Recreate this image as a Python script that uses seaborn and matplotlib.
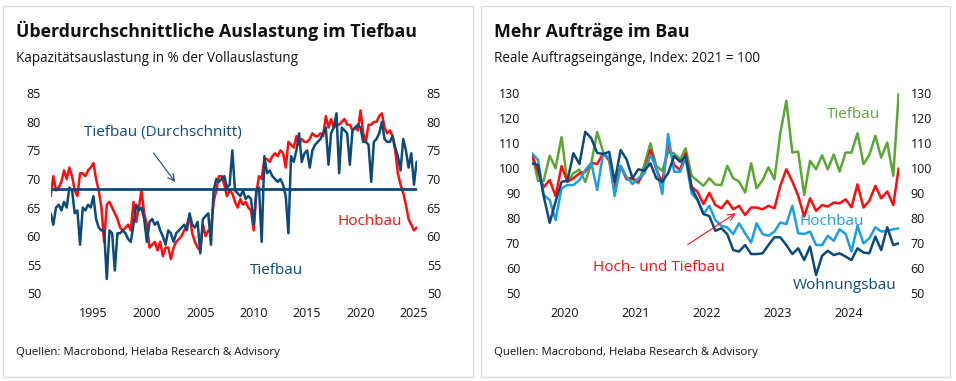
import pandas as pd
import matplotlib
matplotlib.use("Agg")
import matplotlib.pyplot as plt
import matplotlib.dates as mdates
from matplotlib.patches import Rectangle
import seaborn as sns


# ---- left chart: capacity utilisation, quarterly readings 1991Q1 - 2025Q2 ----
tiefbau_auslastung = [
    64, 62, 65, 65.5, 64.5, 66, 65, 68.5, 68, 64, 64.5, 58.5,
    65, 64.5, 65.5, 65, 67, 63, 61.5, 61, 61, 52.5, 61, 60.5,
    54, 60.5, 60.5, 61, 60.5, 59.5, 59, 62, 65.5, 64.5, 65, 63,
    59, 62.5, 63, 62, 62.5, 61, 60, 58.5, 61, 60.5, 59, 60.5,
    61, 61.5, 62, 61, 64, 62, 61.5, 62.5, 57, 63, 63.5, 64,
    58.5, 68, 70, 69.5, 70, 70.5, 68.5, 69, 75, 68, 67.5, 67,
    68, 66.5, 67, 66.5, 62, 68, 68.5, 59, 74, 71, 71.5, 70.5,
    70, 69.5, 70, 69, 67, 60.5, 74, 73, 75, 78, 73, 74.5,
    75, 72, 75, 76, 76.5, 77, 78, 79, 72.5, 78, 79, 81.5,
    71, 79, 78.5, 78, 72.5, 78.5, 79, 79.5, 79, 76.5, 76.5, 76,
    69.5, 76.5, 77, 78, 80, 77, 76.5, 76.5, 77.5, 75.5, 74, 71.5,
    77, 75, 72, 74.5, 69, 73,
]
hochbau_auslastung = [
    67, 70.5, 68, 68.5, 69.5, 71.5, 70, 72, 70.5, 68, 67, 71,
    71, 70.5, 71.5, 72, 72.8, 70, 68, 65, 59, 65.5, 66, 65,
    64, 63, 61.5, 61, 61.5, 62, 61, 66, 62.5, 65, 68, 64,
    62, 58, 58.5, 59, 57.5, 59, 56.5, 58, 58, 56, 58, 59,
    59.5, 60, 61, 62, 63.5, 60.5, 59, 58, 57.5, 62, 60, 61,
    61, 66, 68, 70.5, 70.5, 69, 67, 68, 67.5, 66, 65, 66.5,
    65.5, 66, 65, 64.5, 61, 67.5, 70.5, 70, 73.5, 73.5, 73, 74,
    74.5, 74, 75, 74.5, 72, 76.5, 76, 75.5, 77.5, 76, 77, 76.5,
    76.5, 77, 78, 77.5, 77.5, 78, 77.5, 81, 79, 80.5, 79, 79.5,
    79.5, 80, 80.5, 79.5, 79.5, 78.5, 79, 78.5, 82, 78, 76.5, 79.5,
    79.5, 80, 80, 81, 81.5, 79, 78, 78.5, 77.5, 75, 71, 69,
    67.5, 65.5, 63, 62, 61, 61.5,
]
tiefbau_durchschnitt = 68.3
left_years = [1995, 2000, 2005, 2010, 2015, 2020, 2025]
left_yticks = [50, 55, 60, 65, 70, 75, 80, 85]

# ---- right chart: real orders, index 2021 = 100, monthly Jan 2020 - Mar 2025 ----
auftraege_tiefbau = [
    106, 95, 95, 105, 100, 112.5, 94.5, 98, 99.5, 94.5, 102, 114.5,
    106.5, 103, 90.5, 101, 95.5, 95.5, 94, 101.5, 110, 101, 99, 106.5,
    106, 103.5, 108, 97, 95, 93, 96, 93.5, 93.3, 101, 96, 94.7,
    90.3, 102, 92, 95.3, 100.4, 95.6, 114, 127, 106.3, 106.7, 89.3, 103,
    99.6, 105.2, 99.6, 105.5, 98.7, 106.3, 106.3, 114, 101.7, 105.3, 113, 104.3,
    110.3, 97, 130,
]
auftraege_hoch_tief = [
    105.3, 98.6, 92.4, 95.3, 88.9, 100.9, 94.6, 96, 98, 98.6, 102.2, 101.7,
    106, 103.3, 92, 100.9, 96, 96, 94.6, 98.6, 107.3, 99.6, 94.2, 110,
    101.3, 99.3, 106, 92.6, 90.6, 85.7, 90.2, 85.3, 84, 87, 83.6, 85,
    81.3, 84.3, 84.3, 83.6, 85, 84, 93, 99.6, 94.7, 89, 80.7, 88,
    83, 85.3, 84.7, 86.3, 86, 87.6, 84.4, 93.6, 84.3, 87, 93, 88,
    90.7, 85.3, 100,
]
auftraege_hochbau = [
    106, 103.3, 89.3, 87.3, 79.3, 92, 93.3, 93.3, 95.3, 99.3, 102.2, 91.3,
    106, 104, 88.9, 100.9, 96.6, 93.7, 96, 98, 105.3, 100.6, 89.7, 113.7,
    98.6, 98.6, 104, 90, 87.3, 81.7, 85, 79.3, 77, 76.4, 73.7, 78,
    74, 70.3, 78, 73.7, 73, 74.7, 78.3, 77.7, 85, 74, 73.7, 74.7,
    69.3, 69.3, 73, 71, 75.6, 73.7, 66.7, 77, 70, 72, 76.4, 74.7,
    75, 75.6, 76,
]
auftraege_wohnungsbau = [
    102, 101.3, 88.9, 78.2, 86.6, 94.6, 95, 106, 101.7, 114.6, 112, 106.2,
    105.7, 106.6, 94.6, 107.3, 103.6, 96, 99.6, 99, 102, 96, 94.6, 98,
    104.9, 102.6, 104.9, 92, 87.6, 81.7, 80.9, 75, 76, 73.7, 67.3, 66.7,
    69.3, 65.7, 65.7, 66, 69.3, 72.4, 72.4, 69.3, 65.7, 68, 63.3, 68.7,
    57.3, 65, 67, 65.3, 66, 64.7, 63.3, 68, 66.3, 66, 72.7, 67.3,
    76.4, 69.3, 70,
]
right_years = [2020, 2021, 2022, 2023, 2024]
right_yticks = [50, 60, 70, 80, 90, 100, 110, 120, 130]

DARK_BLUE = "#0c4a78"
RED = "#ff0d0d"
GREEN = "#5aa832"
LIGHT_BLUE = "#1ca0e3"
TEXT = "#111111"
FONT = ["Open Sans", "DejaVu Sans"]

sns.set_theme(style="white")
plt.rcParams["font.family"] = FONT

W, H = 956, 381
fig = plt.figure(figsize=(W / 100, H / 100), dpi=100)


def px_axes(left, top, right, bottom):
    return fig.add_axes([left / W, 1 - bottom / H, (right - left) / W, (bottom - top) / H])


def fig_text(x, y, s, **kw):
    fig.text(x / W, 1 - y / H, s, **kw)


def style_axes(ax, yticks, ypad):
    ax.set_ylim(yticks[0], yticks[-1])
    ax.set_yticks(yticks)
    ax.tick_params(axis="y", length=0, left=True, right=True, labelleft=True,
                   labelright=True, labelsize=9, pad=ypad, labelcolor=TEXT)
    ax.tick_params(axis="x", length=0, labelsize=9, pad=10, labelcolor=TEXT)
    for spine in ax.spines.values():
        spine.set_visible(False)
    ax.set_xlabel("")
    ax.set_ylabel("")
    ax.grid(False)
    ax.patch.set_alpha(0)


def d(ts):
    return mdates.date2num(pd.Timestamp(ts))


# panel frames
for x0, x1 in [(3, 473), (481, 950)]:
    fig.patches.append(Rectangle((x0 / W, 4 / H), (x1 - x0) / W, 371 / H,
                                 transform=fig.transFigure, fill=False,
                                 edgecolor="#dddddd", linewidth=1))

# ---------------- left chart ----------------
quarters = pd.date_range("1991-01-01", periods=len(tiefbau_auslastung), freq="QS")
left_df = pd.DataFrame({
    "Quartal": quarters,
    "Hochbau": hochbau_auslastung,
    "Tiefbau": tiefbau_auslastung,
}).melt(id_vars="Quartal", var_name="Sparte", value_name="Auslastung")

ax1 = px_axes(50.7, 93.3, 417, 293.3)
sns.lineplot(data=left_df, x="Quartal", y="Auslastung", hue="Sparte",
             hue_order=["Hochbau", "Tiefbau"], palette=[RED, DARK_BLUE],
             linewidth=1.8, legend=False, ax=ax1)
ax1.hlines(tiefbau_durchschnitt, quarters[0], quarters[-1], color=DARK_BLUE, linewidth=2)
ax1.set_xlim(d("1991-01-01"), d("2025-04-15"))
ax1.set_xticks([d(f"{y}-01-01") for y in left_years])
ax1.set_xticklabels([str(y) for y in left_years])
style_axes(ax1, left_yticks, 7)

ax1.text(d("2001-07-01"), 78.1, "Tiefbau (Durchschnitt)", color=DARK_BLUE,
         fontsize=11, ha="center", va="center")
ax1.annotate("", xy=(d("2002-10-20"), 69.1), xytext=(d("2000-06-20"), 74.95),
             arrowprops=dict(arrowstyle="->", color=DARK_BLUE, lw=0.8))
ax1.text(d("2020-11-25"), 62.65, "Hochbau", color=RED, fontsize=11, ha="center", va="center")
ax1.text(d("2012-02-05"), 54.0, "Tiefbau", color=DARK_BLUE, fontsize=11, ha="center", va="center")

# ---------------- right chart ----------------
months = pd.date_range("2020-01-01", periods=len(auftraege_tiefbau), freq="MS")
right_df = pd.DataFrame({
    "Monat": months,
    "Tiefbau": auftraege_tiefbau,
    "Hoch- und Tiefbau": auftraege_hoch_tief,
    "Hochbau": auftraege_hochbau,
    "Wohnungsbau": auftraege_wohnungsbau,
}).melt(id_vars="Monat", var_name="Sparte", value_name="Index")

ax2 = px_axes(532, 93.3, 898.7, 293.3)
sns.lineplot(data=right_df, x="Monat", y="Index", hue="Sparte",
             hue_order=["Tiefbau", "Hoch- und Tiefbau", "Hochbau", "Wohnungsbau"],
             palette=[GREEN, RED, LIGHT_BLUE, DARK_BLUE],
             linewidth=1.8, legend=False, ax=ax2)
ax2.set_xlim(d(months[0]), d(months[-1]))
ax2.set_xticks([d(f"{y}-06-16") for y in right_years])
ax2.set_xticklabels([str(y) for y in right_years])
style_axes(ax2, right_yticks, 8.5)

ax2.text(d("2024-07-13"), 121.7, "Tiefbau", color=GREEN, fontsize=11, ha="center", va="center")
ax2.text(d("2024-03-21"), 78.8, "Hochbau", color=LIGHT_BLUE, fontsize=11, ha="center", va="center")
ax2.text(d("2024-05-25"), 53.2, "Wohnungsbau", color=DARK_BLUE, fontsize=11, ha="center", va="center")
ax2.text(d("2021-10-16"), 60.3, "Hoch- und Tiefbau", color=RED, fontsize=11, ha="center", va="center")
ax2.annotate("", xy=(d("2022-11-25"), 82.6), xytext=(d("2022-02-28"), 68.9),
             arrowprops=dict(arrowstyle="->", color=RED, lw=0.8))

# ---------------- titles and sources ----------------
fig_text(16, 37.3, "Überdurchschnittliche Auslastung im Tiefbau", fontsize=12.75,
         fontweight="bold", color=TEXT, va="baseline")
fig_text(16, 62, "Kapazitätsauslastung in % der Vollauslastung", fontsize=9.75,
         color=TEXT, va="baseline")
fig_text(494, 37.3, "Mehr Aufträge im Bau", fontsize=12.75, fontweight="bold",
         color=TEXT, va="baseline")
fig_text(494, 62, "Reale Auftragseingänge, Index: 2021 = 100", fontsize=9.75,
         color=TEXT, va="baseline")
fig_text(16, 353, "Quellen: Macrobond, Helaba Research & Advisory", fontsize=8.2,
         color=TEXT, va="center")
fig_text(494, 353, "Quellen: Macrobond, Helaba Research & Advisory", fontsize=8.2,
         color=TEXT, va="center")

fig.savefig("out.png", dpi=100)
